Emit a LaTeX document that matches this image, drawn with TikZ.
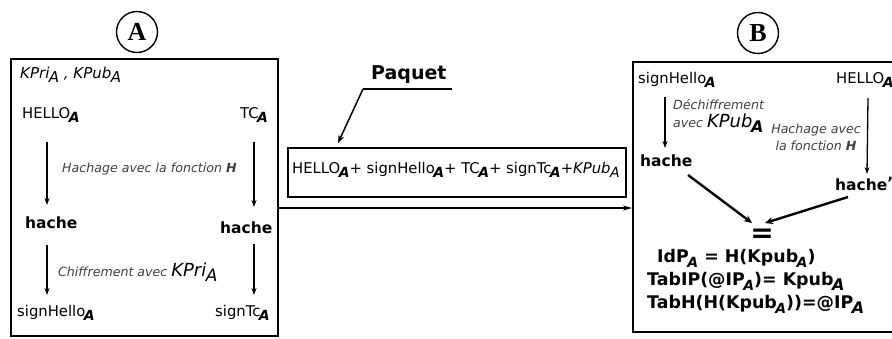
\documentclass[tikz,border=0pt]{standalone}
\usepackage{fontspec}
\setmainfont{DejaVu Sans}
\usetikzlibrary{arrows.meta}
\newcommand{\sA}[1][12]{\kern-1.5pt\raisebox{-0.33em}{\fontsize{#1}{#1}\selectfont\bfseries\itshape A}}
\newcommand{\sAn}[1][12]{\kern-0.5pt\raisebox{-0.33em}{\fontsize{#1}{#1}\selectfont\itshape A}}
\tikzset{
  box/.style={draw, line width=1.8pt},
  lbl/.style={inner sep=0pt, anchor=base west, font=\fontsize{14.8}{14.8}\selectfont},
  bh/.style={inner sep=0pt, anchor=base west, font=\fontsize{15.5}{15.5}\selectfont\bfseries},
  eq/.style={inner sep=0pt, anchor=base west, font=\fontsize{17.4}{17.4}\selectfont\bfseries},
  note/.style={inner sep=0pt, anchor=base west, text=black!75, font=\fontsize{12.6}{12.6}\selectfont\itshape},
  arr/.style={line width=1.3pt, -{Stealth[length=7pt,width=5pt]}},
  barr/.style={line width=2.4pt, -{Stealth[length=8pt,width=7pt]}},
  circ/.style={draw, circle, line width=1.4pt, minimum size=41pt, inner sep=0pt, font=\fontsize{26}{26}\selectfont\bfseries}
}
\begin{document}
\begin{tikzpicture}[x=1pt,y=-1pt]
\useasboundingbox (0,0) rectangle (892,338);
\clip (0,0) rectangle (892,338);
% circles
\node[circ] (cA) at (137,32) {\fontspec{Liberation Serif}\bfseries A};
\node[circ] (cB) at (758,33) {\fontspec{Liberation Serif}\bfseries B};
% box A
\draw[box] (11,59) rectangle (278,336);
\node[lbl, font=\fontsize{15}{15}\selectfont\itshape] (keys) at (20,78) {KPri\sAn[15] , KPub\sAn[15]};
\node[lbl] (helloA) at (22,118) {HELLO\sA[14]};
\node[lbl] (tcA) at (240,118) {TC\sA[14]};
\node[note] (hachA) at (62,172) {Hachage avec la fonction \textbf{H}};
\node[bh] (hache1) at (25,228) {hache};
\node[bh] (hache2) at (220,233) {hache};
\node[note] (chif) at (58,276) {Chiffrement avec {\color{black}\fontsize{18}{18}\selectfont KPri\sAn[17]}};
\node[lbl] (sh) at (17,316) {signHello\sA[14]};
\node[lbl] (stc) at (215,316) {signTc\sA[14]};
\coordinate (l1) at (47,142); \coordinate (l2) at (47,205);
\coordinate (l3) at (47,245); \coordinate (l4) at (47,295);
\coordinate (r1) at (254,142); \coordinate (r2) at (254,207);
\coordinate (r3) at (254,244); \coordinate (r4) at (254,295);
\draw[arr] (l1) -- (l2);
\draw[arr] (l3) -- (l4);
\draw[arr] (r1) -- (r2);
\draw[arr] (r3) -- (r4);
% middle
\node[inner sep=0pt, anchor=base west, font=\fontsize{19}{19}\selectfont\bfseries] (paq) at (371,79) {Paquet};
\coordinate (pl1) at (452,89); \coordinate (pl2) at (363,89); \coordinate (pl3) at (338,143);
\draw[line width=1.5pt] (pl1) -- (pl2);
\draw[line width=1.5pt, -{Stealth[length=8pt,width=6pt]}] (pl2) -- (pl3);
\draw[line width=1.5pt] (288,148) rectangle (626,197);
\node[lbl] (pk) at (292,173) {HELLO\sA[14]+ signHello\sA[14]+ TC\sA[14]+ signTc\sA[14]+{\itshape KPub}\sAn[14]};
\coordinate (m1) at (278,208); \coordinate (m2) at (632,208);
\draw[line width=1.3pt, -{Stealth[length=9pt,width=5pt]}] (m1) -- (m2);
% box B
\draw[box] (633,62) rectangle (900,332);
\node[lbl] (shB) at (638,83) {signHello\sA[14]};
\node[lbl] (helloB) at (836,83) {HELLO\sA[14]};
\node[note] (dech1) at (673,109) {Déchiffrement};
\node[note] (dech2) at (673,127) {avec {\color{black}\fontsize{18}{18}\selectfont KPub\sA[16]}};
\node[note, anchor=base] (hB1) at (816,133) {Hachage avec};
\node[note, anchor=base] (hB2) at (816,150) {la fonction \textbf{H}};
\node[bh] (hacheB1) at (640,166) {hache};
\node[bh] (hacheB2) at (835,190) {hache\raisebox{2pt}{'}};
\coordinate (b1) at (665,97); \coordinate (b2) at (665,148);
\coordinate (b3) at (868,98); \coordinate (b4) at (867,174);
\draw[arr] (b1) -- (b2);
\draw[arr] (b3) -- (b4);
\node[inner sep=0pt, font=\fontsize{28}{28}\selectfont\bfseries] (eqs) at (762,236) {=};
\coordinate (c1) at (688,175); \coordinate (c2) at (752,223);
\coordinate (c3) at (848,197); \coordinate (c4) at (765,223);
\draw[barr] (c1) -- (c2);
\draw[barr] (c3) -- (c4);
\node[eq] (e1) at (657,262) {IdP\sA[14] = H(Kpub\sA[14])};
\node[eq] (e2) at (647,285) {TabIP(@IP\sA[14])= Kpub\sA[16]};
\node[eq] (e3) at (647,308) {TabH(H(Kpub\sA[14]))=@IP\sA[16]};
\end{tikzpicture}
\end{document}
